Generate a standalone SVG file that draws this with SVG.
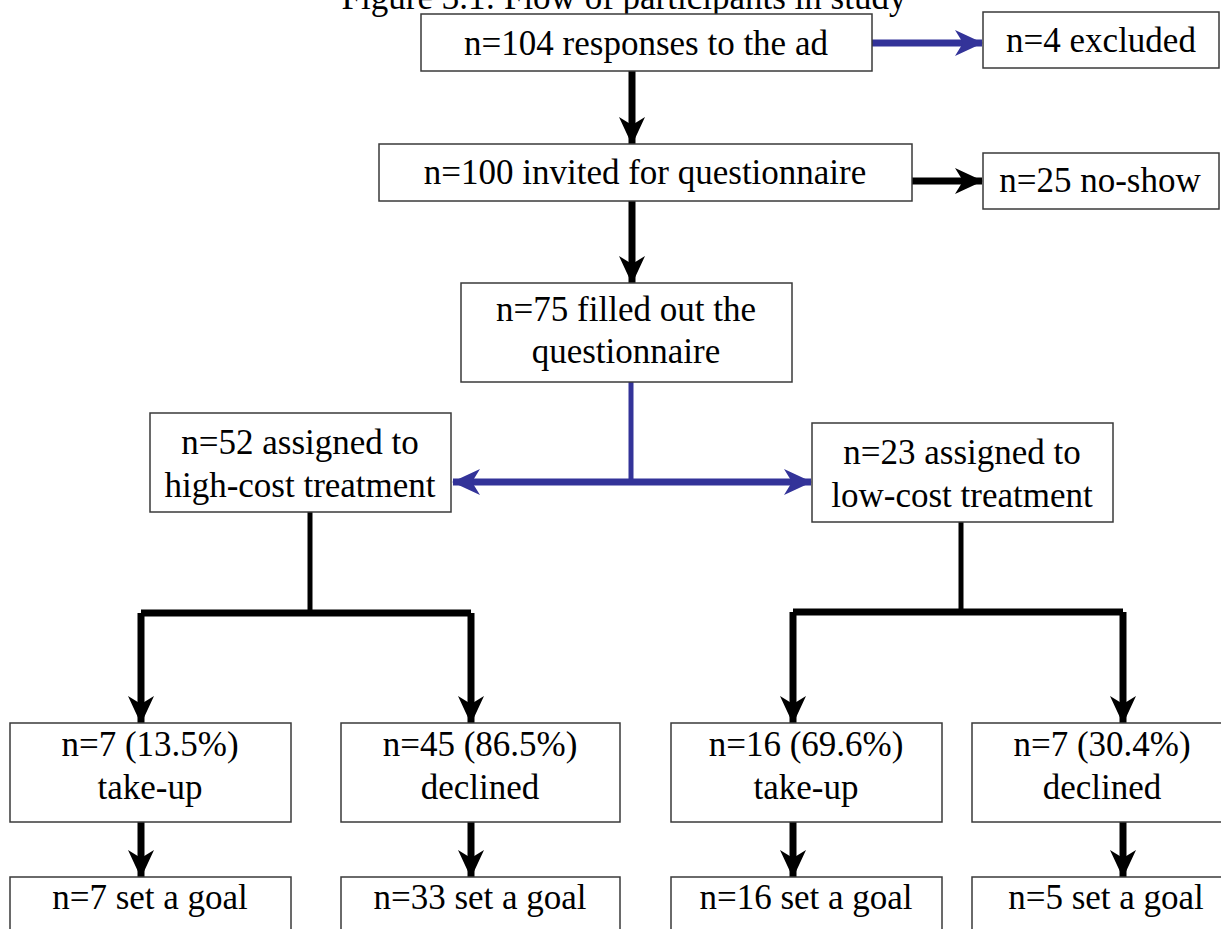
<svg xmlns="http://www.w3.org/2000/svg" width="1221" height="929" viewBox="0 0 1221 929">
<style>
  .box { fill: #ffffff; stroke: #3a3a3a; stroke-width: 1.5; }
  .t { font-family: "Liberation Serif", "Times New Roman", serif; font-size: 35px; fill: #000; text-anchor: middle; }
  .blk { stroke: #000; fill: none; stroke-linejoin: round; }
  .blu { stroke: #333399; fill: none; stroke-linejoin: round; }
</style>
<defs>
  <marker id="ahBlack" markerUnits="userSpaceOnUse" markerWidth="28" markerHeight="28" viewBox="0 0 28 28" refX="27" refY="14" orient="auto-start-reverse">
    <path d="M0,1 L28,14 L0,27 L8,14 Z" fill="#000"/>
  </marker>
  <marker id="ahBlue" markerUnits="userSpaceOnUse" markerWidth="28" markerHeight="28" viewBox="0 0 28 28" refX="27" refY="14" orient="auto-start-reverse">
    <path d="M0,1 L28,14 L0,27 L8,14 Z" fill="#333399"/>
  </marker>
</defs>
<rect width="1221" height="929" fill="#fff"/>
<text class="t" x="624" y="9">Figure 3.1: Flow of participants in study</text>

<g id="connectors">
  <line class="blu" x1="872" y1="43" x2="982" y2="43" stroke-width="7" marker-end="url(#ahBlue)"/>
  <line class="blk" x1="632" y1="71" x2="632" y2="144" stroke-width="7" marker-end="url(#ahBlack)"/>
  <line class="blk" x1="912" y1="181" x2="982" y2="181" stroke-width="7" marker-end="url(#ahBlack)"/>
  <line class="blk" x1="632" y1="201" x2="632" y2="283" stroke-width="7" marker-end="url(#ahBlack)"/>
  <line class="blu" x1="631" y1="382" x2="631" y2="482" stroke-width="5"/>
  <line class="blu" x1="453" y1="482" x2="811" y2="482" stroke-width="7" marker-start="url(#ahBlue)" marker-end="url(#ahBlue)"/>
  <line class="blk" x1="310" y1="512" x2="310" y2="613" stroke-width="5"/>
  <path class="blk" d="M141,613 H471" stroke-width="7"/>
  <path class="blk" d="M141,613 V723" stroke-width="7" marker-end="url(#ahBlack)"/>
  <path class="blk" d="M471,613 V723" stroke-width="7" marker-end="url(#ahBlack)"/>
  <line class="blk" x1="961" y1="522" x2="961" y2="612" stroke-width="5"/>
  <path class="blk" d="M793,612 H1123" stroke-width="7"/>
  <path class="blk" d="M793,612 V723" stroke-width="7" marker-end="url(#ahBlack)"/>
  <path class="blk" d="M1123,612 V723" stroke-width="7" marker-end="url(#ahBlack)"/>
  <line class="blk" x1="141" y1="822" x2="141" y2="877" stroke-width="7" marker-end="url(#ahBlack)"/>
  <line class="blk" x1="471" y1="822" x2="471" y2="877" stroke-width="7" marker-end="url(#ahBlack)"/>
  <line class="blk" x1="793" y1="822" x2="793" y2="877" stroke-width="7" marker-end="url(#ahBlack)"/>
  <line class="blk" x1="1123" y1="822" x2="1123" y2="877" stroke-width="7" marker-end="url(#ahBlack)"/>
</g>

<g id="n-responses">
  <rect class="box" x="421" y="14" width="451" height="57"/>
  <text class="t" x="646" y="55">n=104 responses to the ad</text>
</g>
<g id="n-excluded">
  <rect class="box" x="983" y="12" width="236" height="56"/>
  <text class="t" x="1101" y="52">n=4 excluded</text>
</g>
<g id="n-invited">
  <rect class="box" x="379" y="144" width="533" height="57"/>
  <text class="t" x="645" y="184">n=100 invited for questionnaire</text>
</g>
<g id="n-noshow">
  <rect class="box" x="983" y="153" width="236" height="56"/>
  <text class="t" x="1100" y="192">n=25 no-show</text>
</g>
<g id="n-filled">
  <rect class="box" x="461" y="283" width="331" height="99"/>
  <text class="t" x="626" y="321">n=75 filled out the</text>
  <text class="t" x="626" y="363">questionnaire</text>
</g>
<g id="n-high">
  <rect class="box" x="150" y="413" width="301" height="99"/>
  <text class="t" x="300" y="454">n=52 assigned to</text>
  <text class="t" x="300" y="497">high-cost treatment</text>
</g>
<g id="n-low">
  <rect class="box" x="812" y="423" width="301" height="99"/>
  <text class="t" x="962" y="464">n=23 assigned to</text>
  <text class="t" x="962" y="507">low-cost treatment</text>
</g>
<g id="n-high-takeup">
  <rect class="box" x="10" y="723" width="281" height="99"/>
  <text class="t" x="150" y="756">n=7 (13.5%)</text>
  <text class="t" x="150" y="799">take-up</text>
</g>
<g id="n-high-declined">
  <rect class="box" x="341" y="723" width="279" height="99"/>
  <text class="t" x="480" y="756">n=45 (86.5%)</text>
  <text class="t" x="480" y="799">declined</text>
</g>
<g id="n-low-takeup">
  <rect class="box" x="671" y="723" width="271" height="99"/>
  <text class="t" x="806" y="756">n=16 (69.6%)</text>
  <text class="t" x="806" y="799">take-up</text>
</g>
<g id="n-low-declined">
  <rect class="box" x="972" y="723" width="262" height="99"/>
  <text class="t" x="1102" y="756">n=7 (30.4%)</text>
  <text class="t" x="1102" y="799">declined</text>
</g>
<g id="n-high-takeup-goal">
  <rect class="box" x="10" y="877" width="281" height="70"/>
  <text class="t" x="150" y="909">n=7 set a goal</text>
</g>
<g id="n-high-declined-goal">
  <rect class="box" x="341" y="877" width="279" height="70"/>
  <text class="t" x="480" y="909">n=33 set a goal</text>
</g>
<g id="n-low-takeup-goal">
  <rect class="box" x="671" y="877" width="271" height="70"/>
  <text class="t" x="806" y="909">n=16 set a goal</text>
</g>
<g id="n-low-declined-goal">
  <rect class="box" x="972" y="877" width="262" height="70"/>
  <text class="t" x="1106" y="909">n=5 set a goal</text>
</g>
</svg>
